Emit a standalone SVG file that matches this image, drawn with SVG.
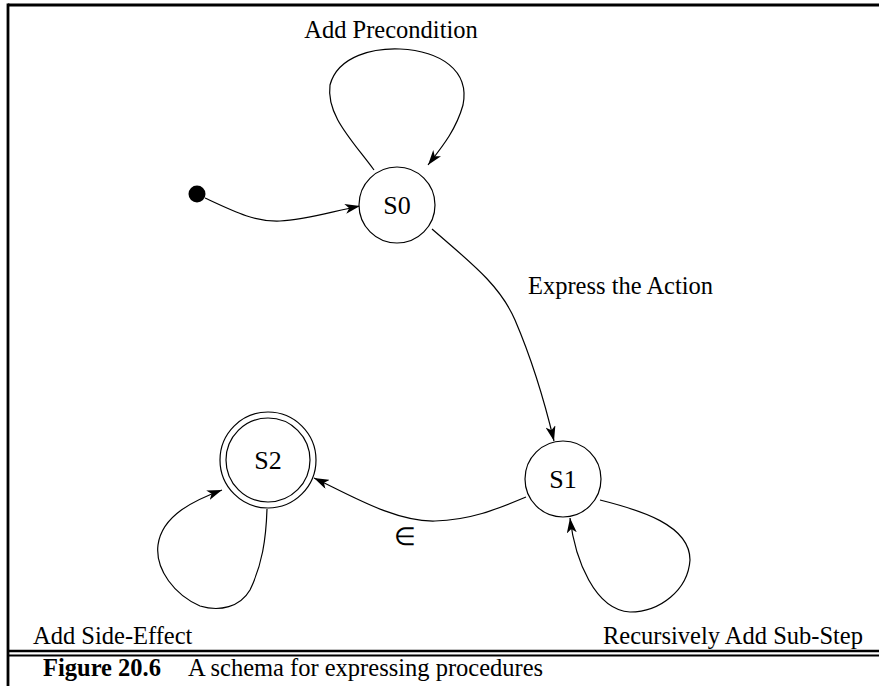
<svg xmlns="http://www.w3.org/2000/svg" width="879" height="686" viewBox="0 0 879 686">
<defs>
<style>
.node{fill:#fff;stroke:#000;stroke-width:1.2}
.edge{fill:none;stroke:#000;stroke-width:1.2}
.lbl{font-family:"Liberation Serif","Times New Roman",serif;font-size:24.5px;fill:#000}
.nl{font-family:"Liberation Serif","Times New Roman",serif;font-size:26px;fill:#000;text-anchor:middle}
.frame{stroke:#000;fill:none}
</style>
<marker id="arr" viewBox="0 0 15 10" refX="15" refY="5" markerWidth="15" markerHeight="10" markerUnits="userSpaceOnUse" orient="auto">
<path d="M0,0 L15,5 L0,10 L4,5 Z" fill="#000"/>
</marker>
</defs>
<rect width="879" height="686" fill="#fff"/>
<g id="frame">
<line class="frame" x1="8" y1="5" x2="879" y2="5" stroke-width="2.8"/>
<line class="frame" x1="8" y1="3.6" x2="8" y2="686" stroke-width="2.8"/>
<line class="frame" x1="8" y1="651" x2="879" y2="651" stroke-width="2.5"/>
<line class="frame" x1="8" y1="655.5" x2="879" y2="655.5" stroke-width="2"/>
</g>
<g id="connectors">
<path class="edge" d="M205,198 C235,212 255,222 280,221 C305,220 330,212 360,206" marker-end="url(#arr)"/>
<path class="edge" d="M374,170 C352,140 326,115 330,85 C338,55 375,48 400,49 C440,51 470,70 463,105 C456,130 442,147 428,165" marker-end="url(#arr)"/>
<path class="edge" d="M432,229 C470,262 500,285 515,320 C530,355 543,395 554,441" marker-end="url(#arr)"/>
<path class="edge" d="M526,497 C495,510 470,520 435,521 C395,522 350,495 314,478" marker-end="url(#arr)"/>
<path class="edge" d="M600,500 C640,510 690,525 690,560 C688,590 660,612 630,612 C595,610 575,560 570,518" marker-end="url(#arr)"/>
<path class="edge" d="M267,509 C266,540 262,565 250,590 C240,607 220,612 200,606 C175,595 155,570 158,545 C162,515 195,500 222,490" marker-end="url(#arr)"/>
</g>
<g id="start">
<circle cx="197" cy="194" r="8.5" fill="#000"/>
</g>
<g id="S0">
<circle class="node" cx="397" cy="205" r="38"/>
<text class="nl" x="397" y="214">S0</text>
</g>
<g id="S1">
<circle class="node" cx="563" cy="479" r="38"/>
<text class="nl" x="563" y="488">S1</text>
</g>
<g id="S2">
<circle class="node" cx="268" cy="460" r="48"/>
<circle class="node" cx="268" cy="460" r="42"/>
<text class="nl" x="268" y="469">S2</text>
</g>
<g id="labels">
<text class="lbl" x="391" y="38" text-anchor="middle">Add Precondition</text>
<text class="lbl" x="528" y="294">Express the Action</text>
<text class="lbl" x="405" y="545" text-anchor="middle" font-family="DejaVu Serif, serif" font-size="22px" font-weight="300">∈</text>
<text class="lbl" x="33" y="644">Add Side-Effect</text>
<text class="lbl" x="863" y="644" text-anchor="end">Recursively Add Sub-Step</text>
</g>
<g id="caption">
<text class="lbl" x="43" y="676" font-weight="bold">Figure 20.6</text>
<text class="lbl" x="188" y="676">A schema for expressing procedures</text>
</g>
</svg>
